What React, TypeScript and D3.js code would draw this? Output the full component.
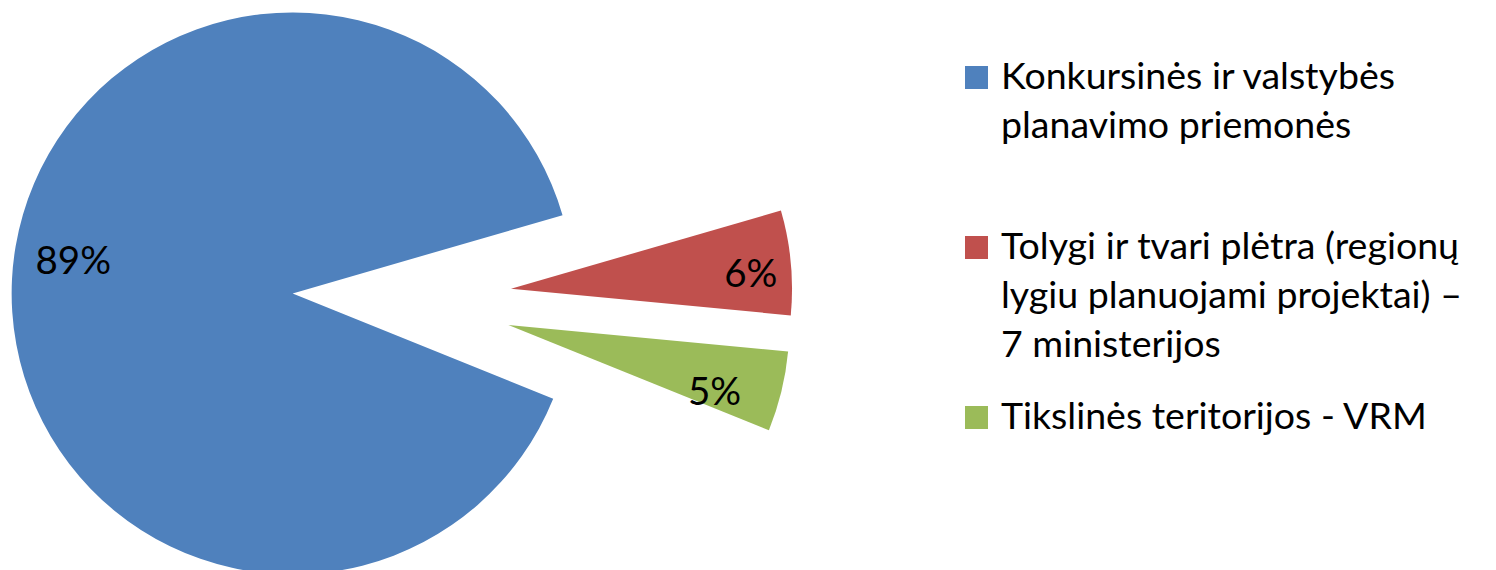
import React from 'react';
import * as d3 from 'd3';

// ---- data ----
const categories = [
  'Konkursinės ir valstybės planavimo priemonės',
  'Tolygi ir tvari plėtra (regionų lygiu planuojami projektai) – 7 ministerijos',
  'Tikslinės teritorijos - VRM',
];
const legendLines = [
  ['Konkursinės ir valstybės', 'planavimo priemonės'],
  ['Tolygi ir tvari plėtra (regionų', 'lygiu planuojami projektai) –', '7 ministerijos'],
  ['Tikslinės teritorijos - VRM'],
];
const values = [89.4, 6.0, 4.6];
const colors = ['#4F81BD', '#C0504D', '#9BBB59'];

// ---- layout ----
const W = 1496;
const H = 570;
const CX = 402;
const CY = 299;
const R = 281;
const EXPLODE = 109.5;
const START_DEG = 112;
const FONT = 'Lato, "Open Sans", "Liberation Sans", sans-serif';
const LABEL_SIZE = 38.5;
const LEGEND_SIZE = 37.5;
// label placement: fraction of radius and angle shift (deg) from slice mid angle
const labelRadiusFrac = [0.79, 0.855, 0.77];
const labelAngleShift = [5.8, 1.6, 4];
const LEGEND_X = 965;
const LEGEND_TEXT_X = 1001;
const LEGEND_TOP_BASELINE = 89;
const LEGEND_ENTRY_STEP = 170;
const LEGEND_LINE_H = 49;
const SWATCH = 23;

const rad = (d: number) => (d * Math.PI) / 180;

export default function App() {
  const start = rad(START_DEG);
  const pie = d3
    .pie<number>()
    .sort(null)
    .value((d) => d)
    .startAngle(start)
    .endAngle(start + 2 * Math.PI);
  const arcs = pie(values);
  const arc = d3.arc<d3.PieArcDatum<number>>().innerRadius(0).outerRadius(R);
  const total = d3.sum(values);

  return (
    <svg
      width={W}
      height={H}
      style={{ position: 'absolute', left: 0, top: 0, display: 'block', background: '#fff' }}
      fontFamily={FONT}
    >
      <g transform={`translate(${CX},${CY})`}>
        {arcs.map((a, i) => {
          const mid = (a.startAngle + a.endAngle) / 2;
          const ox = Math.sin(mid) * EXPLODE;
          const oy = -Math.cos(mid) * EXPLODE;
          const la = mid + rad(labelAngleShift[i]);
          const lr = R * labelRadiusFrac[i];
          const lx = Math.sin(la) * lr;
          const ly = -Math.cos(la) * lr;
          const pct = Math.round((a.value / total) * 100);
          return (
            <g key={categories[i]} transform={`translate(${ox},${oy})`}>
              <path d={arc(a) || ''} fill={colors[i]} />
              <text
                x={lx}
                y={ly + LABEL_SIZE * 0.36}
                textAnchor="middle"
                fontSize={LABEL_SIZE}
                fill="#000"
              >
                {pct}%
              </text>
            </g>
          );
        })}
      </g>
      <g>
        {legendLines.map((lines, i) => {
          const base = LEGEND_TOP_BASELINE + i * LEGEND_ENTRY_STEP;
          return (
            <g key={categories[i]}>
              <rect x={LEGEND_X} y={base - SWATCH} width={SWATCH} height={SWATCH} fill={colors[i]} />
              <text x={LEGEND_TEXT_X} y={base} fontSize={LEGEND_SIZE} fill="#000">
                {lines.map((ln, j) => (
                  <tspan key={j} x={LEGEND_TEXT_X} y={base + j * LEGEND_LINE_H}>
                    {ln}
                  </tspan>
                ))}
              </text>
            </g>
          );
        })}
      </g>
    </svg>
  );
}
